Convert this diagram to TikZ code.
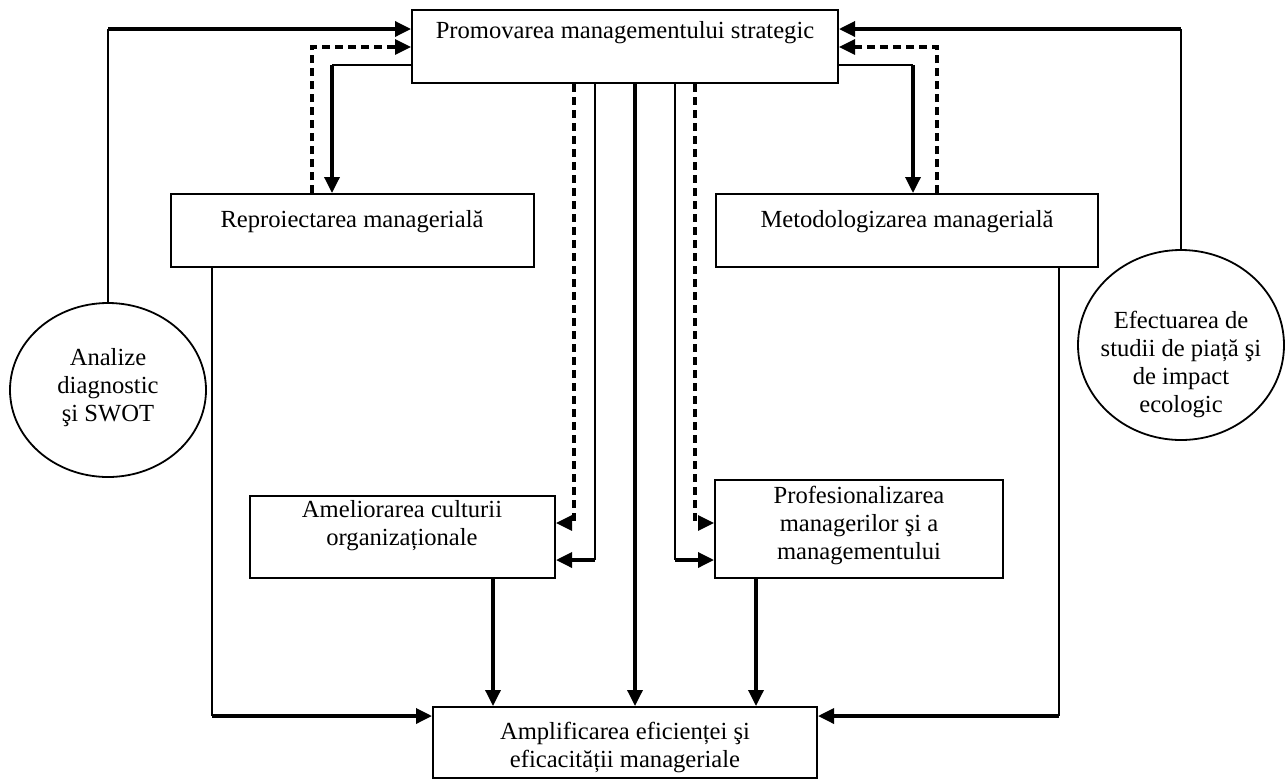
\documentclass[tikz,border=0pt]{standalone}
\usepackage{fontspec}
\setmainfont{Liberation Serif}
\usetikzlibrary{arrows.meta,shapes.geometric}
\begin{document}
\begin{tikzpicture}[x=1pt,y=-1pt,
  box/.style={draw, line width=2pt, rectangle, inner sep=0pt},
  oval/.style={draw, line width=1.8pt, ellipse, inner sep=0pt},
  txt/.style={font=\fontsize{24.6}{28}\selectfont, align=center, inner sep=0pt},
  thinln/.style={line width=1.7pt},
  thickln/.style={line width=3.4pt},
  dashln/.style={line width=3.2pt, dash pattern=on 8pt off 5pt},
  tip/.style={-{Triangle[length=16pt,width=15pt]}}
]
\clip (0,0) rectangle (1285,780);
\fill[white] (0,0) rectangle (1285,780);

% boxes
\node[box, minimum width=426pt, minimum height=73pt] (top)  at (625,46.5) {};
\node[box, minimum width=363pt, minimum height=73pt] (repr) at (352.5,230.5) {};
\node[box, minimum width=382pt, minimum height=73pt] (met)  at (907,230.5) {};
\node[box, minimum width=305pt, minimum height=82pt] (amel) at (402.5,537) {};
\node[box, minimum width=288pt, minimum height=98pt] (prof) at (859,529) {};
\node[box, minimum width=384pt, minimum height=71pt] (bot)  at (625,742.5) {};
\node[oval, minimum width=196pt, minimum height=174pt] (ana) at (108,390) {};
\node[oval, minimum width=206pt, minimum height=190pt] (efe) at (1181,345) {};

% texts
\node[txt] (t-top)  at (625,33)  {Promovarea managementului strategic};
\node[txt] (t-repr) at (352,222) {Reproiectarea managerială};
\node[txt] (t-met)  at (907,222) {Metodologizarea managerială};
\node[txt] (t-amel) at (402,526) {Ameliorarea culturii\\organizaționale};
\node[txt] (t-prof) at (859,525) {Profesionalizarea\\managerilor şi a\\managementului};
\node[txt] (t-bot)  at (625,747) {Amplificarea eficienței şi\\eficacității manageriale};
\node[txt] (t-ana)  at (108,388) {Analize\\diagnostic\\şi SWOT};
\node[txt] (t-efe)  at (1181,364) {Efectuarea de\\studii de piață şi\\de impact\\ecologic};

% left side links
\coordinate (ana-up) at (ana.north |- 0,29);
\draw[thinln] (ana.north) -- (ana-up);
\draw[thickln,tip] (ana-up) -- (top.west |- ana-up);
\coordinate (repr-d) at (312,47);
\draw[dashln,tip] (repr.north -| repr-d) -- (repr-d) -- (top.west |- repr-d);
\coordinate (repr-s) at (332,65);
\draw[thinln] (top.west |- repr-s) -- (repr-s);
\draw[thickln,tip] (repr-s) -- (repr.north -| repr-s);

% right side links
\coordinate (efe-up) at (efe.north |- 0,29);
\draw[thinln] (efe.north) -- (efe-up);
\draw[thickln,tip] (efe-up) -- (top.east |- efe-up);
\coordinate (met-d) at (937,47);
\draw[dashln,tip] (met.north -| met-d) -- (met-d) -- (top.east |- met-d);
\coordinate (met-s) at (913,65);
\draw[thinln] (top.east |- met-s) -- (met-s);
\draw[thickln,tip] (met-s) -- (met.north -| met-s);

% central links
\coordinate (am-d) at (574,523);
\draw[dashln,tip] (top.south -| am-d) -- (am-d) -- (amel.east |- am-d);
\coordinate (am-s) at (595,560);
\draw[thinln] (top.south -| am-s) -- (am-s);
\draw[thickln,tip] (am-s) -- (amel.east |- am-s);
\coordinate (axis) at (635,400);
\draw[thickln,tip] (top.south -| axis) -- (bot.north -| axis);
\coordinate (pr-s) at (675,560);
\draw[thinln] (top.south -| pr-s) -- (pr-s);
\draw[thickln,tip] (pr-s) -- (prof.west |- pr-s);
\coordinate (pr-d) at (695,523);
\draw[dashln,tip] (top.south -| pr-d) -- (pr-d) -- (prof.west |- pr-d);

% links into the result box
\coordinate (am-b) at (493,650);
\draw[thickln,tip] (amel.south -| am-b) -- (bot.north -| am-b);
\coordinate (pr-b) at (756,650);
\draw[thickln,tip] (prof.south -| pr-b) -- (bot.north -| pr-b);
\coordinate (re-b) at (212,716);
\draw[thinln] (repr.south -| re-b) -- (re-b);
\draw[thickln,tip] (re-b) -- (bot.west |- re-b);
\coordinate (me-b) at (1059,716);
\draw[thinln] (met.south -| me-b) -- (me-b);
\draw[thickln,tip] (me-b) -- (bot.east |- me-b);
\end{tikzpicture}
\end{document}
